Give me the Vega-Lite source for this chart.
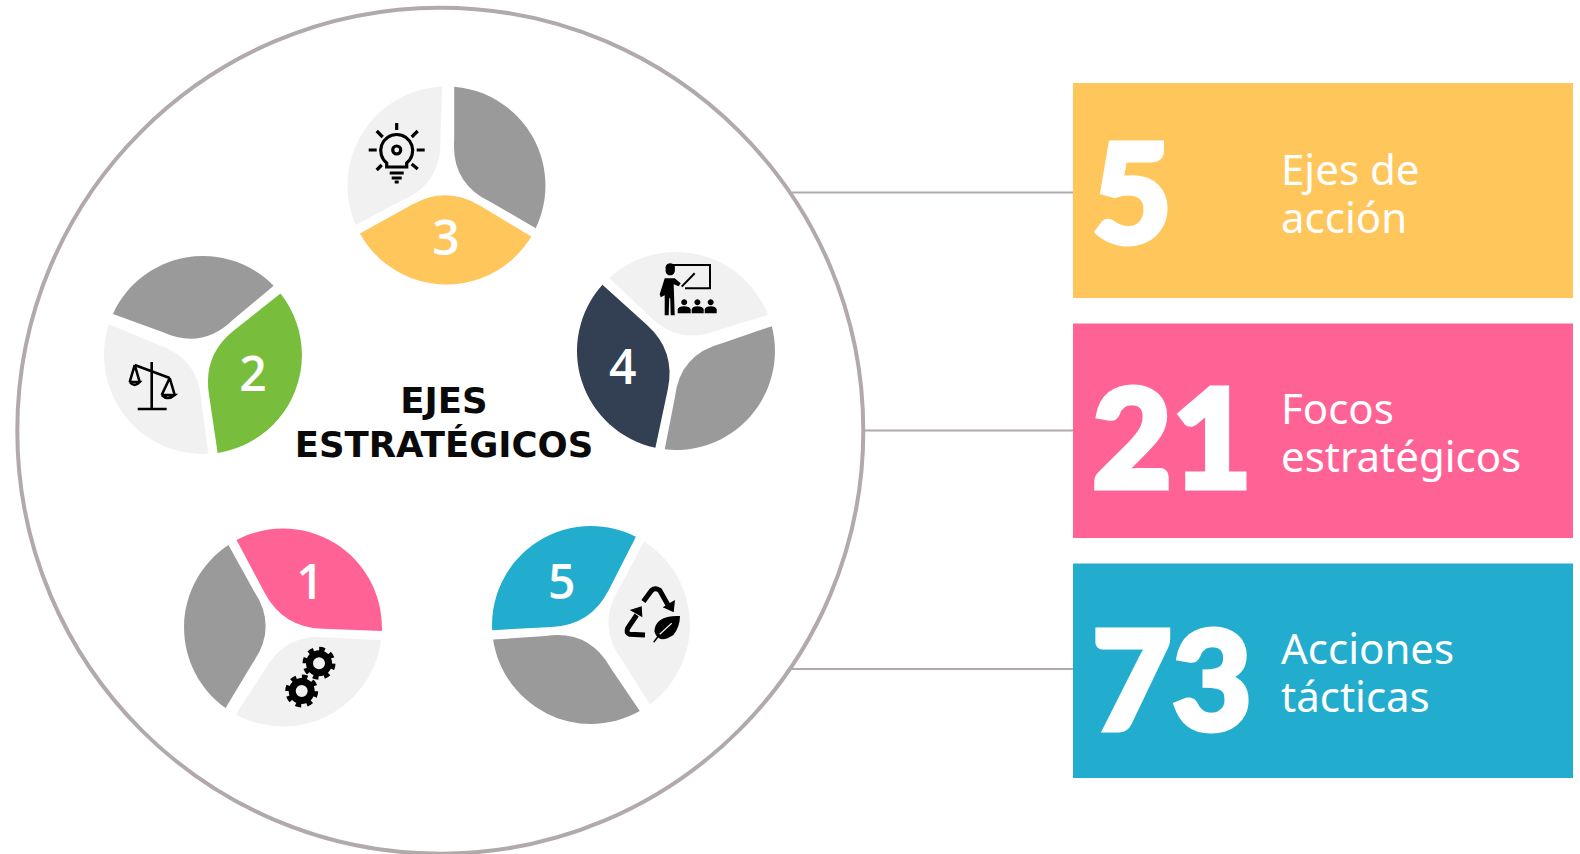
{
"$schema":"https://vega.github.io/schema/vega-lite/v6.json",
"width":1580,"height":854,"padding":0,
"autosize":{"type":"none"},
"background":"white",
"config":{"view":{"stroke":null}},
"encoding":{
 "x":{"field":"x","type":"quantitative","scale":{"domain":[0,1580]},"axis":null},
 "y":{"field":"y","type":"quantitative","scale":{"domain":[0,854],"reverse":true},"axis":null}
},
"datasets":{
 "colored":[
  {"eje":"3","x":446.5,"y":185.5,"rot":181},
  {"eje":"4","x":676,"y":351,"rot":252},
  {"eje":"5","x":591,"y":625,"rot":327},
  {"eje":"1","x":283,"y":627.5,"rot":32},
  {"eje":"2","x":203,"y":355,"rot":111.5}
 ],
 "neutral":[
  {"eje":"gris","x":446.5,"y":185.5,"rot":60},{"eje":"claro","x":446.5,"y":185.5,"rot":302},
  {"eje":"gris","x":676,"y":351,"rot":131},{"eje":"claro","x":676,"y":351,"rot":13},
  {"eje":"gris","x":591,"y":625,"rot":206},{"eje":"claro","x":591,"y":625,"rot":88},
  {"eje":"gris","x":283,"y":627.5,"rot":271},{"eje":"claro","x":283,"y":627.5,"rot":153},
  {"eje":"gris","x":203,"y":355,"rot":350},{"eje":"claro","x":203,"y":355,"rot":232.5}
 ]
},
"layer":[
 {"data":{"values":[{"x":440.3,"y":430.7}]},
  "mark":{"type":"point","shape":"M -423 0 A 423 423 0 1 1 423 0 A 423 423 0 1 1 -423 0 Z","size":4,"filled":false,"stroke":"#b2aaaa","strokeWidth":4,"opacity":1}},
 {"data":{"values":[{"x":792,"x2":1073,"y":192.5},{"x":865,"x2":1073,"y":430.5},{"x":792,"x2":1073,"y":669}]},
  "mark":{"type":"rule","stroke":"#b2aaaa","strokeWidth":2},
  "encoding":{"x2":{"field":"x2"}}},
 {"data":{"values":[
   {"eje":"3","x":1073,"x2":1573,"y":83,"y2":298},
   {"eje":"1","x":1073,"x2":1573,"y":323.5,"y2":538},
   {"eje":"5","x":1073,"x2":1573,"y":563.5,"y2":778}]},
  "mark":{"type":"rect"},
  "encoding":{"x2":{"field":"x2"},"y2":{"field":"y2"},
   "fill":{"field":"eje","type":"nominal","legend":null,"scale":{"domain":["1","2","3","4","5","gris","claro"],"range":["#FF6396","#78BE3C","#FFC65C","#333F52","#22ADCE","#9A9A9A","#F1F1F1"]}}}},
 {"data":{"name":"colored"},
  "mark":{"type":"point","shape":"M -85.7 -49.5 A 99 99 0 0 1 85.7 -49.5 L 34 -19.7 Q 0 0 -34 -19.7 Z","size":4,"filled":true,"strokeWidth":0,"opacity":1},
  "encoding":{"angle":{"field":"rot","type":"quantitative","scale":null},
   "fill":{"field":"eje","type":"nominal","legend":null}}},
 {"data":{"name":"neutral"},
  "mark":{"type":"point","shape":"M -81.6 -56 A 99 99 0 0 1 81.6 -56 L 36 -29.7 Q 0 -5 -36 -29.7 Z","size":4,"filled":true,"strokeWidth":0,"opacity":1},
  "encoding":{"angle":{"field":"rot","type":"quantitative","scale":null},
   "fill":{"field":"eje","type":"nominal","legend":null}}},
 {"data":{"values":[
   {"t":"3","x":446,"y":255},{"t":"4","x":622.7,"y":384},{"t":"5","x":561.7,"y":599},{"t":"1","x":310,"y":599},{"t":"2","x":253,"y":391}]},
  "mark":{"type":"text","font":"Open Sans","fontSize":48,"fontWeight":600,"fill":"white","align":"center","baseline":"alphabetic"},
  "encoding":{"text":{"field":"t"}}},
 {"data":{"values":[{"t":"EJES","x":444,"y":413},{"t":"ESTRATÉGICOS","x":444,"y":457}]},
  "mark":{"type":"text","font":"DejaVu Sans","fontSize":35.5,"fontWeight":"bold","fill":"#0a0a0a","align":"center","baseline":"alphabetic"},
  "encoding":{"text":{"field":"t"}}},
 {"data":{"values":[{"t":"5","x":1092,"y":243},{"t":"21","x":1092,"y":487.5},{"t":"73","x":1092,"y":730}]},
  "mark":{"type":"text","font":"Lato","fontSize":138,"fontWeight":900,"fill":"white","stroke":"white","strokeWidth":5,"align":"left","baseline":"alphabetic"},
  "encoding":{"text":{"field":"t"}}},
 {"data":{"values":[
   {"t":"Ejes de","x":1281,"y":185},{"t":"acción","x":1281,"y":233},
   {"t":"Focos","x":1281,"y":424},{"t":"estratégicos","x":1281,"y":472},
   {"t":"Acciones","x":1281,"y":663.5},{"t":"tácticas","x":1281,"y":711.5}]},
  "mark":{"type":"text","font":"Noto Sans","fontSize":42,"fontWeight":400,"fill":"white","align":"left","baseline":"alphabetic"},
  "encoding":{"text":{"field":"t"}}},
 {"data":{"values":[{"icon":"bombilla","x":396.7,"y":150}]},
  "mark":{"type":"point","shape":"M 0 -27 L 0 -20 M 28 0 L 20 0 M -28 0 L -20 0 M -20 -19 L -14 -13 M 21 -19 L 15 -13 M -20 20 L -15 15 M 21 19 L 15 14 M -10 17 L -10 13 A 16 16 0 1 1 10 13 L 10 17 Z M -7 23 L 7 23 M -5 28 L 5 28 M -2 32 L 2 32 M -4 0 A 4 4 0 1 1 4 0 A 4 4 0 1 1 -4 0 Z","size":4,"filled":false,"stroke":"#000","strokeWidth":3.2,"opacity":1}},
 {"data":{"values":[{"icon":"balanza","x":151.7,"y":385}]},
  "mark":{"type":"point","shape":"M 0 -23 L 0 23 M -14 24 L 15 24 M -17 -20 L 18 -7 M -17 -20 L -22 -3 M -17 -20 L -12 -3 M -22 -3 L -12 -3 Q -17 3 -22 -3 M 18 -7 L 10 10 M 18 -7 L 23 10 M 10 10 L 23 10 Q 16 16 10 10","size":4,"filled":false,"stroke":"#000","strokeWidth":2.6,"opacity":1}},
 {"data":{"values":[{"icon":"profesor","x":686.7,"y":288.3}]},
  "mark":{"type":"point","shape":"M -13.3 -17 L -13.3 -23.3 L 23.3 -23.3 L 23.3 0 L -1.7 0 M -5 -1.7 L 8 -15","size":4,"filled":false,"stroke":"#000","strokeWidth":2,"opacity":1}},
 {"data":{"values":[{"icon":"profesor","x":686.7,"y":288.3}]},
  "mark":{"type":"point","shape":"M -21 -19 A 4.7 4.7 0 1 1 -12 -19 A 4.7 4.7 0 1 1 -21 -19 Z M -22 -10 L -12 -10 L -6 -5 L -8 -2 L -13 -4 L -12 27 L -16 27 L -16.5 10 L -17.5 10 L -18 27 L -22 27 L -22 7 L -26 9 L -27 6 Z M -5.5 14 A 3 3 0 1 1 0.5 14 A 3 3 0 1 1 -5.5 14 Z M -9 25 L -9 21 Q -8 18 -3 18 Q 3 18 4 21 L 4 25 Z M 7.7 14 A 3 3 0 1 1 13.7 14 A 3 3 0 1 1 7.7 14 Z M 5 25 L 5 21 Q 6 18 10.7 18 Q 16 18 17 21 L 17 25 Z M 21 14 A 3 3 0 1 1 27 14 A 3 3 0 1 1 21 14 Z M 18 25 L 18 21 Q 19 18 24 18 Q 29 18 30 21 L 30 25 Z","size":4,"filled":true,"fill":"#000","strokeWidth":0,"opacity":1}},
 {"data":{"values":[{"icon":"engranaje","x":319,"y":663.3},{"icon":"engranaje","x":301.7,"y":691}]},
  "mark":{"type":"point","shape":"M -9.5 0 A 9.5 9.5 0 1 1 9.5 0 A 9.5 9.5 0 1 1 -9.5 0 Z","size":4,"filled":false,"stroke":"#000","strokeWidth":7,"opacity":1}},
 {"data":{"values":[{"icon":"engranaje","x":319,"y":663.3},{"icon":"engranaje","x":301.7,"y":691}]},
  "mark":{"type":"point","shape":"M -14 0 A 14 14 0 1 1 14 0 A 14 14 0 1 1 -14 0 Z","size":4,"filled":false,"stroke":"#000","strokeWidth":5,"strokeDash":[5.5,5.5],"opacity":1}},
 {"data":{"values":[{"icon":"reciclaje","x":651.7,"y":613.3}]},
  "mark":{"type":"point","shape":"M -8.3 -11.7 L 0 -23 Q 3.3 -26 8 -23 L 17 -7 M -6.7 21.7 L -22 21 Q -26 20 -24 15 L -15 1.7","size":4,"filled":false,"stroke":"#000","strokeWidth":5,"opacity":1}},
 {"data":{"values":[{"icon":"reciclaje","x":651.7,"y":613.3}]},
  "mark":{"type":"point","shape":"M 11 -6 L 23.3 -13.3 L 22 -1 Z M -10 -7 L -22 -3.3 L -9.3 4 Z M 28.3 2.7 Q 3.3 1.7 2.7 18.3 Q 6.7 31.7 21.7 21.7 Q 28.3 13.3 28.3 2.7 Z","size":4,"filled":true,"fill":"#000","strokeWidth":0,"opacity":1}},
 {"data":{"values":[{"icon":"reciclaje","x":651.7,"y":613.3}]},
  "mark":{"type":"point","shape":"M 2 29 L 8 21","size":4,"filled":false,"stroke":"#000","strokeWidth":1.5,"opacity":1}},
 {"data":{"values":[{"icon":"reciclaje","x":651.7,"y":613.3}]},
  "mark":{"type":"point","shape":"M 8 21 L 20 10","size":4,"filled":false,"stroke":"#F1F1F1","strokeWidth":1.2,"opacity":1}}
]
}
